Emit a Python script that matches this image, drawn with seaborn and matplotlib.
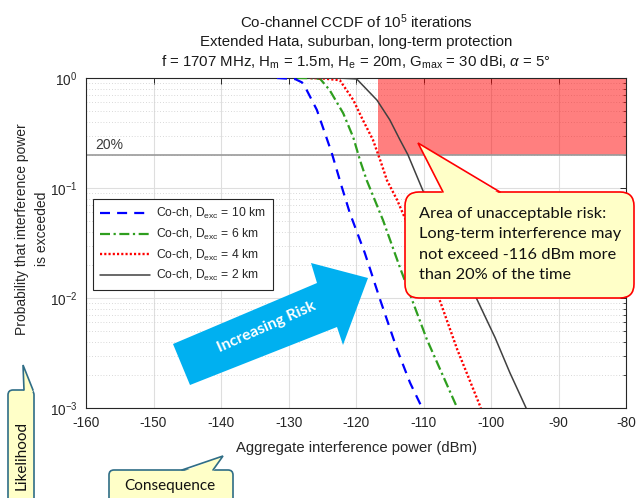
import numpy as np
import pandas as pd
import matplotlib
matplotlib.use("Agg")
import matplotlib.pyplot as plt
import seaborn as sns
from matplotlib.patches import Polygon, FancyBboxPatch, Rectangle
from matplotlib.lines import Line2D
from matplotlib.transforms import Affine2D
from matplotlib.ticker import NullLocator, LogLocator

# ---------------- data ----------------
x_10km = [-131.7, -129.0, -128.0, -127.3, -125.8, -123.6, -122.1, -120.9, -118.7, -116.4, -113.9, -112.0, -110.2]
p_10km = [1.0, 0.977, 0.912, 0.776, 0.513, 0.209, 0.102, 0.0589, 0.0257, 0.00955, 0.00339, 0.0017, 0.001]

x_6km = [-128.7, -126.5, -125.3, -123.9, -121.9, -120.4, -119.4, -118.4, -116.0, -113.5, -109.5, -105.0]
p_6km = [1.0, 0.995, 0.98, 0.776, 0.479, 0.288, 0.178, 0.117, 0.051, 0.019, 0.0042, 0.001]

x_4km = [-126.8, -124.9, -122.4, -120.4, -119.0, -117.5, -116.4, -115.4, -113.9, -108.0, -105.0, -101.5]
p_4km = [1.0, 0.99, 0.955, 0.63, 0.417, 0.275, 0.178, 0.117, 0.0776, 0.0112, 0.0034, 0.001]

x_2km = [-127.0, -122.0, -119.9, -116.9, -115.0, -113.5, -112.3, -110.1, -102.4, -99.4, -97.2, -94.8]
p_2km = [1.0, 0.995, 0.98, 0.63, 0.417, 0.275, 0.2, 0.095, 0.0107, 0.00437, 0.00209, 0.001]

series_labels = ["Co-ch, D$_{\\mathrm{exc}}$ = 10 km", "Co-ch, D$_{\\mathrm{exc}}$ = 6 km",
                 "Co-ch, D$_{\\mathrm{exc}}$ = 4 km", "Co-ch, D$_{\\mathrm{exc}}$ = 2 km"]
xticks = [-160, -150, -140, -130, -120, -110, -100, -90, -80]
risk_left_dbm = -116.7   # left edge of the shaded risk area as drawn
threshold_p = 0.2

title_lines = ["Co-channel CCDF of 10$^5$ iterations",
               "Extended Hata, suburban, long-term protection",
               "f = 1707 MHz, H$_\\mathrm{m}$ = 1.5m, H$_\\mathrm{e}$ = 20m, G$_\\mathrm{max}$ = 30 dBi, $\\alpha$ = 5\u00b0"]
xlabel = "Aggregate interference power (dBm)"
ylabel = "Probability that interference power\nis exceeded"
risk_text = "Area of unacceptable risk:\nLong-term interference may\nnot exceed -116 dBm more\nthan 20% of the time"

# ---------------- style ----------------
sns.set_theme(style="white")
plt.rcParams["font.family"] = ["Liberation Sans", "DejaVu Sans"]
plt.rcParams["mathtext.fontset"] = "custom"
plt.rcParams["mathtext.rm"] = "Liberation Sans"
plt.rcParams["mathtext.it"] = "Liberation Sans:italic"
plt.rcParams["mathtext.bf"] = "Liberation Sans:bold"
plt.rcParams["axes.unicode_minus"] = False

W, H = 636, 498
fig = plt.figure(figsize=(W / 100, H / 100), dpi=100)
fig.patch.set_facecolor("white")
px = Affine2D().scale(1 / W, -1 / H).translate(0, 1) + fig.transFigure

ax = fig.add_axes([86 / W, 1 - 408 / H, 540 / W, 330 / H])
ax.set_facecolor("white")

colors = ["#0000FF", "#2E9E1E", "#FF0000", "#404040"]
styles = [(0, (4.5, 3.2)), (0, (4.5, 1.6, 1.0, 1.6)), (0, (0.9, 0.9)), "-"]
widths = [1.6, 1.6, 1.7, 1.1]
xs_all = [x_10km, x_6km, x_4km, x_2km]
ps_all = [p_10km, p_6km, p_4km, p_2km]

for xs, ps, lab, c, ls, lw in zip(xs_all, ps_all, series_labels, colors, styles, widths):
    df = pd.DataFrame({"x": xs, "p": ps})
    sns.lineplot(data=df, x="x", y="p", ax=ax, color=c, linestyle=ls, lw=lw,
                 label=lab, zorder=3)

ax.set_yscale("log")
ax.set_xlim(-160, -80)
ax.set_ylim(1e-3, 1)
ax.set_xticks(xticks)
ax.set_xticklabels([str(t) for t in xticks])
ax.xaxis.set_minor_locator(NullLocator())
ax.yaxis.set_minor_locator(LogLocator(base=10, subs=np.arange(2, 10)))
ax.set_xlabel("")
ax.set_ylabel("")

ax.set_axisbelow(True)
ax.grid(True, which="major", color="#dedede", lw=0.8)
ax.grid(True, which="minor", axis="y", color="#cccccc", ls=(0, (1, 2.4)), lw=0.6)
ax.tick_params(which="both", direction="in", top=True, right=True,
               colors="#262626", labelsize=9.8, labelcolor="#262626")
ax.tick_params(which="major", length=4, width=0.7, pad=6)
ax.tick_params(which="minor", length=2, width=0.6)
for s in ax.spines.values():
    s.set_color("#262626")
    s.set_linewidth(0.8)

# risk region and 20% line
ax.add_patch(Rectangle((risk_left_dbm, threshold_p), -80 - risk_left_dbm, 1 - threshold_p,
                       facecolor="#FF0000", alpha=0.5, lw=0, zorder=1.5))
ax.axhline(threshold_p, color="#9a9a9a", lw=1.2, zorder=1.6)
ax.text(-158.7, 0.212, "20%", color="#3a3a3a", fontsize=10, va="bottom", ha="left", zorder=4)

leg = ax.legend(loc="upper left", bbox_to_anchor=(0.013, 0.633), borderaxespad=0,
                frameon=True, fancybox=False, edgecolor="#262626", framealpha=1,
                fontsize=8.7, handlelength=4.1, labelspacing=0.45, borderpad=0.6,
                handletextpad=0.5)
leg.get_frame().set_linewidth(0.8)
for t in leg.get_texts():
    t.set_color("#262626")

# titles and labels
for y, t in zip([22, 42, 62], title_lines):
    fig.text(356, y, t, transform=px, ha="center", va="center", fontsize=10.8, color="#1a1a1a")
fig.text(356, 448, xlabel, transform=px, ha="center", va="center", fontsize=10.7, color="#262626")
fig.text(32, 229, ylabel, transform=px, ha="center", va="center", rotation=90,
         fontsize=10, color="#262626", multialignment="center", linespacing=1.55)

# big arrow
arrow_pts = [(173, 344), (317, 283), (311, 263), (368, 278), (343, 345), (337, 327), (190, 385)]
fig.add_artist(Polygon(arrow_pts, closed=True, transform=px, facecolor="#00B0F0",
                       edgecolor="none", zorder=5))
fig.text(267, 327, "Increasing Risk", transform=px, ha="center", va="center", rotation=24,
         rotation_mode="anchor", color="white", fontweight="bold", family="Lato",
         fontsize=11.5, zorder=6)


def callout(x0, y0, x1, y1, tip, ba, bb, ec, fc, r, lw=1.2, z=7):
    box = FancyBboxPatch((x0, y0), x1 - x0, y1 - y0, boxstyle=f"round,pad=0,rounding_size={r}",
                         transform=px, facecolor=fc, edgecolor=ec, lw=lw, zorder=z)
    fig.add_artist(box)
    fill = Polygon([(ba[0], ba[1] + 2), tip, (bb[0], bb[1] + 2)], closed=True, transform=px,
                   facecolor=fc, edgecolor="none", zorder=z + 0.1)
    fig.add_artist(fill)
    fig.add_artist(Line2D([ba[0], tip[0], bb[0]], [ba[1], tip[1], bb[1]], transform=px,
                          color=ec, lw=lw, zorder=z + 0.2, solid_joinstyle="miter"))


callout(405, 192, 634, 298, (418, 143), (443, 192), (500, 192), "#FF0000", "#FFFFC8", 14)
fig.text(419, 244.5, risk_text, transform=px, ha="left", va="center", family="Lato",
         fontsize=11.8, color="#111111", linespacing=1.6, zorder=8)

callout(8, 390, 34, 520, (23, 365), (24, 390), (33, 390), "#2F6D86", "#FFFFC8", 5)
fig.text(22, 455, "Likelihood", transform=px, ha="center", va="center", rotation=90,
         family="Lato", fontsize=11, color="#111111", zorder=8)

callout(109, 470, 233, 520, (223, 456), (182, 470), (213, 470), "#2F6D86", "#FFFFC8", 5)
fig.text(170, 486, "Consequence", transform=px, ha="center", va="center",
         family="Lato", fontsize=11, color="#111111", zorder=8)

fig.savefig("out.png", dpi=100)
